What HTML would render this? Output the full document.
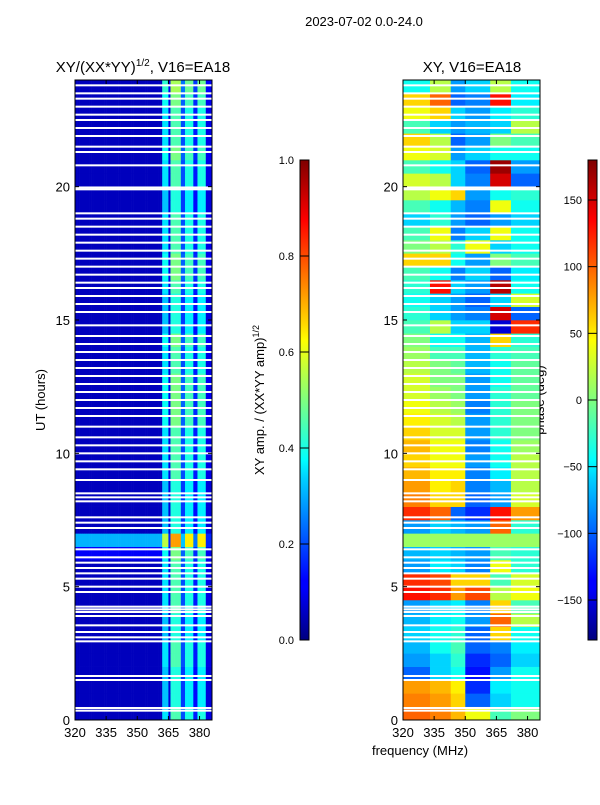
<!DOCTYPE html>
<html><head><meta charset="utf-8">
<style>
body{margin:0;background:#fff;}
svg text{font-family:"Liberation Sans","DejaVu Sans",sans-serif;fill:#000;}
</style></head>
<body>
<svg id="c" width="600" height="800" xmlns="http://www.w3.org/2000/svg">
<text x="364" y="26" font-size="13" text-anchor="middle">2023-07-02 0.0-24.0</text>
<text x="143" y="72" font-size="15" text-anchor="middle">XY/(XX*YY)<tspan dy="-6" font-size="10">1/2</tspan><tspan dy="6">, V16=EA18</tspan></text>
<text x="472" y="72" font-size="15" text-anchor="middle">XY, V16=EA18</text>
<text transform="translate(45,400) rotate(-90)" font-size="13" text-anchor="middle">UT (hours)</text>
<text transform="translate(264,400) rotate(-90)" font-size="13" text-anchor="middle">XY amp. / (XX*YY amp)<tspan dy="-5" font-size="9">1/2</tspan></text>
<text transform="translate(544,400) rotate(-90)" font-size="13" text-anchor="middle">phase (deg)</text>
<text x="420" y="755" font-size="13" text-anchor="middle">frequency (MHz)</text>
<defs>
<linearGradient id="jet" x1="0" y1="1" x2="0" y2="0">
<stop offset="0" stop-color="#00007f"/><stop offset="0.11" stop-color="#0000ff"/><stop offset="0.125" stop-color="#0000ff"/><stop offset="0.34" stop-color="#00d4ff"/><stop offset="0.375" stop-color="#0ff"/><stop offset="0.5" stop-color="#7fff7f"/><stop offset="0.625" stop-color="#ff0"/><stop offset="0.66" stop-color="#ffd700"/><stop offset="0.875" stop-color="#f00"/><stop offset="1" stop-color="#7f0000"/>
</linearGradient>
</defs>
<g id="amp"></g>
<g id="ph"></g>
<g id="axes"></g>
</svg>
<script>
const ampFreqs=[];for(let f=320;f<386;f++)ampFreqs.push(f);
const ampCols=[0.06,0.06,0.06,0.06,0.06,0.06,0.06,0.06,0.06,0.06,0.06,0.06,0.06,0.06,0.06,0.06,0.06,0.06,0.06,0.06,0.06,0.06,0.06,0.06,0.06,0.06,0.06,0.06,0.06,0.06,0.06,0.06,0.06,0.06,0.06,0.06,0.06,0.06,0.06,0.06,0.06,0.06,
0.35,0.35,0.35,0.1,0.45,0.45,0.45,0.45,0.45,0.2,0.2,0.4,0.4,0.4,0.4,0.15,0.15,0.4,0.4,0.4,0.4,0.1,0.1,0.1];
const ampRowScale=[1,0.9,0.9,0.9,1,1,0.9,0.9,1,1,1,1,1.1,1.6,0.9,0.9,0.9,0.9,1,1,1,1,1.1,1.1,1.1,1.1,1,1,1.1,0.9,0.9,0.9,1,1.1,1.1,1,1,1,0.9,0.9,1,1,1.1,1,1,1,1.1,1.2];
const ampRowLow=[0.06,0.06,0.06,0.06,0.06,0.06,0.06,0.06,0.06,0.06,0.06,0.06,0.12,0.3,0.06,0.06,0.06,0.06,0.06,0.06,0.06,0.06,0.06,0.06,0.06,0.06,0.06,0.06,0.06,0.06,0.06,0.06,0.06,0.06,0.06,0.06,0.06,0.06,0.06,0.06,0.06,0.06,0.06,0.06,0.06,0.06,0.06,0.06];
const phaseGroups=[320,333,343,350,362,372,386];
const phaseRows=[[100,90,70,40,-20,0],[90,80,60,-100,-60,-40],[80,70,50,-120,-50,-40],[-100,-60,-40,-130,-80,-40],[-80,-60,-30,-120,-100,-60],[-70,-40,-20,-100,-90,-50],[-60,-40,-30,-100,60,-40],[-70,-50,-40,-80,100,20],[-80,-60,-50,-90,60,-20],[130,120,80,110,20,40],[120,110,60,60,-20,30],[-80,-50,-60,-90,40,-30],[-70,-60,-70,-80,-20,-30],[10,10,10,10,10,10],[-80,-60,-70,-80,100,-30],[120,100,-100,-120,130,80],[90,60,60,-100,-80,30],[80,50,60,-90,-70,20],[70,50,50,-90,-50,20],[60,40,40,-80,-40,20],[70,40,40,-90,-40,10],[60,30,30,-80,-30,0],[50,30,20,-80,-30,0],[40,20,10,-90,-30,0],[30,10,0,-80,-30,-10],[30,0,0,-80,-40,-10],[20,0,-10,-70,-40,-10],[10,-20,-20,-70,-30,-20],[0,-40,-40,-70,60,-30],[-20,20,-60,-60,-150,120],[-30,-60,-80,-90,150,-100],[-40,-60,-80,-100,-60,30],[-30,130,-60,-80,160,-40],[-20,-40,-90,-60,-100,-50],[60,60,-40,-80,0,-20],[0,20,-30,40,-60,-40],[-20,40,-90,-60,40,-40],[-60,-30,-80,-100,-80,-60],[-20,-40,-70,-90,40,-40],[20,40,60,-80,-40,-30],[30,20,-60,-90,150,-100],[-20,-40,-60,-100,170,-80],[40,30,-80,-60,-40,-40],[60,20,-100,-80,0,-20],[-20,-60,-80,-70,-60,20],[40,60,-60,-80,-50,-30],[60,100,-100,-90,130,-50],[-40,20,-80,-60,20,-40]];
const gapsUT=[0.35,0.45,1.5,1.65,2.95,3.1,3.3,3.55,3.9,4.05,4.15,4.25,4.8,5.0,5.3,5.5,5.7,5.9,6.1,6.4,7.2,7.4,7.6,8.2,8.35,8.5,9.0,9.4,9.7,10.0,10.3,10.6,11.0,11.4,11.7,12.0,12.3,12.6,12.9,13.2,13.5,13.8,14.1,14.4,14.8,15.3,15.6,15.9,16.2,16.4,16.7,17.0,17.3,17.6,17.9,18.2,18.5,18.8,19.0,19.9,19.97,20.8,21.3,21.5,21.9,22.2,22.5,22.7,23.0,23.3,23.5,23.8];
const yTicks=[0,5,10,15,20];
const xTicks=[320,335,350,365,380];
const ampTicks=[0,0.2,0.4,0.6,0.8,1.0];
const phTicks=[-150,-100,-50,0,50,100,150];

const NS="http://www.w3.org/2000/svg";
const Y0=720,Y1=80,PL=[75,212],PR=[403,540];
const yS=t=>Y0-(t/24)*(Y0-Y1);
const xS=(p,f)=>p[0]+(f-320)/66*(p[1]-p[0]);
function jet(v){v=Math.max(0,Math.min(1,v));
 const r=Math.min(4*v-1.5,-4*v+4.5),g=Math.min(4*v-0.5,-4*v+3.5),b=Math.min(4*v+0.5,-4*v+2.5);
 const c=x=>Math.round(255*Math.max(0,Math.min(1,x)));return `rgb(${c(r)},${c(g)},${c(b)})`;}
function mk(tag,a,parent){const e=document.createElementNS(NS,tag);for(const k in a)e.setAttribute(k,a[k]);parent.appendChild(e);return e;}
const gA=document.getElementById('amp'),gP=document.getElementById('ph'),gX=document.getElementById('axes');
for(let r=0;r<ampRowScale.length;r++){
 const t0=r*0.5,y=yS(t0+0.5),h=yS(t0)-y;
 for(let i=0;i<ampFreqs.length;i++){
  const v=i<42?ampRowLow[r]:ampCols[i]*ampRowScale[r];
  const x=xS(PL,ampFreqs[i]);
  const e=mk('rect',{x:x,y:y,width:xS(PL,ampFreqs[i]+1)-x+0.3,height:h+0.3,fill:jet(v)},gA);
  
  
 }}
for(let r=0;r<phaseRows.length;r++){
 const t0=r*0.5,y=yS(t0+0.5),h=yS(t0)-y;
 for(let g=0;g<6;g++){
  const x=xS(PR,phaseGroups[g]);
  const e=mk('rect',{x:x,y:y,width:xS(PR,phaseGroups[g+1])-x+0.3,height:h+0.3,fill:jet((phaseRows[r][g]+180)/360)},gP);
  
  
 }}
for(const p of [PL,PR]){for(const t of gapsUT){
 const e=mk('rect',{x:p[0],y:yS(t)-1,width:p[1]-p[0],height:2,fill:'#fff'},gX);
 
 
}}
for(const p of [PL,PR]){
 const fr=mk('rect',{x:p[0],y:Y1,width:p[1]-p[0],height:Y0-Y1,fill:'none',stroke:'#000','stroke-width':1},gX);
 
 
 for(const t of yTicks){const y=yS(t);
  mk('line',{x1:p[0],x2:p[0]+4,y1:y,y2:y,stroke:'#000'},gX);mk('line',{x1:p[1],x2:p[1]-4,y1:y,y2:y,stroke:'#000'},gX);
  const tx=mk('text',{x:p[0]-5,y:y+5,'font-size':13,'text-anchor':'end'},gX);tx.textContent=t;
  
  }
 for(const f of xTicks){const x=xS(p,f);
  mk('line',{x1:x,x2:x,y1:Y0,y2:Y0-4,stroke:'#000'},gX);mk('line',{x1:x,x2:x,y1:Y1,y2:Y1+4,stroke:'#000'},gX);
  const tx=mk('text',{x:x,y:Y0+17,'font-size':13,'text-anchor':'middle'},gX);tx.textContent=f;
  
  }
}
function cbar(x,ticks,lo,hi,fmt,name){
 const r=mk('rect',{x:x,y:160,width:9,height:480,fill:'url(#jet)',stroke:'#000','stroke-width':1},gX);
 
 
 for(const t of ticks){const y=640-(t-lo)/(hi-lo)*480;
  mk('line',{x1:x,x2:x+9,y1:y,y2:y,stroke:'#000'},gX);
  const tx=mk('text',{x:x-6,y:y+4,'font-size':11,'text-anchor':'end'},gX);tx.textContent=fmt(t);
  
  }
}
cbar(300,ampTicks,0,1,t=>t.toFixed(1),'amp-colorbar');
cbar(588,phTicks,-180,180,t=>String(t).replace('-','\u2212'),'phase-colorbar');
</script>
</body></html>
